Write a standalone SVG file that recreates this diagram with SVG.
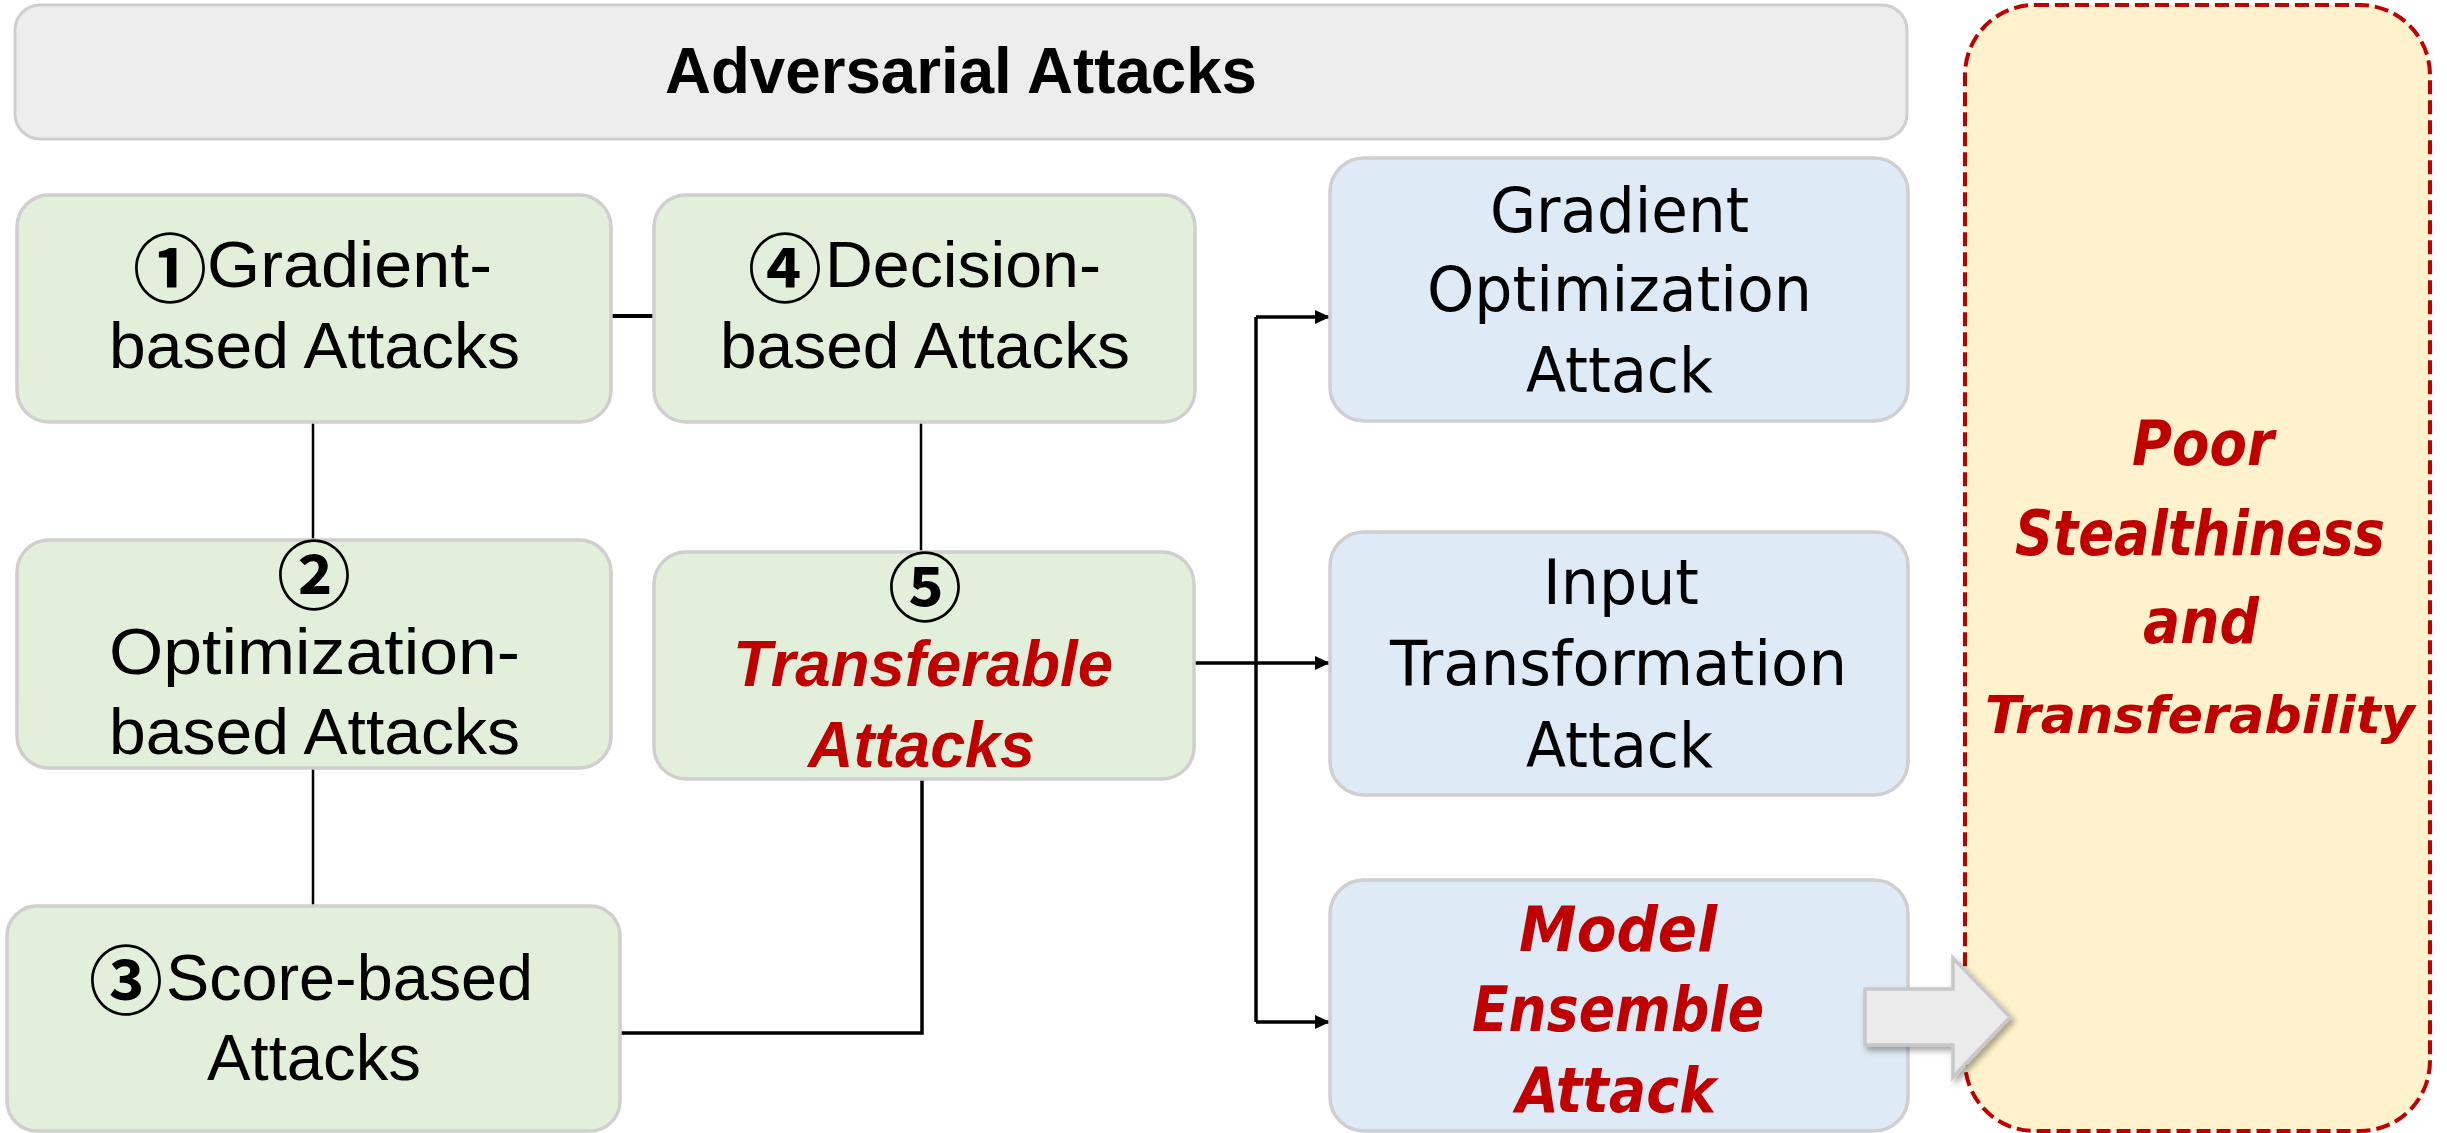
<svg xmlns="http://www.w3.org/2000/svg" width="2447" height="1133" viewBox="0 0 2447 1133">
<defs>
<style>
.title{fill:#EDEDED;stroke:#D0CECE;stroke-width:3}
.green{fill:#E2EFDA;stroke:#D0CECE;stroke-width:3.5}
.blue{fill:#DEEBF7;stroke:#D0CECE;stroke-width:3.5}
.t{font-family:"Liberation Sans",Arial,sans-serif;font-size:64px;fill:#000}
.tb{font-family:"Liberation Sans",Arial,sans-serif;font-size:64px;font-weight:bold;fill:#000}
.tr{font-family:"Liberation Sans",Arial,sans-serif;font-size:64px;font-weight:bold;font-style:italic;fill:#C00000}
.v{font-family:"DejaVu Sans",Verdana,sans-serif;font-size:62px;fill:#000}
.vr{font-family:"DejaVu Sans",Verdana,sans-serif;font-size:62px;font-weight:bold;font-style:italic;fill:#C00000}
.num{font-family:"Noto Sans CJK SC","Noto Sans CJK JP",sans-serif;font-size:74px;font-weight:bold;fill:#000}
.ln{stroke:#000;fill:none;stroke-width:2.5}
.lt{stroke:#000;fill:none;stroke-width:3.5}
</style>
<marker id="ah" markerUnits="userSpaceOnUse" markerWidth="16" markerHeight="16" refX="15" refY="8" orient="auto">
<path d="M0,1 L15,8 L0,15 Z" fill="#000"/>
</marker>
<filter id="sh" x="-20%" y="-20%" width="150%" height="150%">
<feDropShadow dx="3" dy="4" stdDeviation="3" flood-color="#000" flood-opacity="0.35"/>
</filter>
</defs>

<g id="title">
<rect class="title" x="15" y="5" width="1892" height="134" rx="25"/>
<text class="tb" x="961" y="93" text-anchor="middle" textLength="592" lengthAdjust="spacingAndGlyphs">Adversarial Attacks</text>
</g>

<g id="connectors">
<line class="lt" x1="611" y1="316" x2="654" y2="316" style="stroke-width:4"/>
<line class="ln" x1="313" y1="422" x2="313" y2="540"/>
<line class="ln" x1="313" y1="768" x2="313" y2="906"/>
<line class="ln" x1="921" y1="422" x2="921" y2="552"/>
<polyline class="lt" points="922,779 922,1033 620,1033"/>
<line class="lt" x1="1256" y1="317" x2="1256" y2="1022"/>
<line class="lt" x1="1194" y1="663" x2="1330" y2="663" marker-end="url(#ah)"/>
<line class="lt" x1="1256" y1="317" x2="1330" y2="317" marker-end="url(#ah)"/>
<line class="lt" x1="1256" y1="1022" x2="1330" y2="1022" marker-end="url(#ah)"/>
</g>

<g id="node-gradient">
<rect class="green" x="17" y="195" width="594" height="227" rx="32"/>
<text class="t" y="287"><tspan class="num" x="133" y="296">①</tspan><tspan x="207" y="287" textLength="285" lengthAdjust="spacingAndGlyphs">Gradient-</tspan></text>
<text class="t" x="109" y="368" textLength="411" lengthAdjust="spacingAndGlyphs">based Attacks</text>
</g>

<g id="node-decision">
<rect class="green" x="654" y="195" width="541" height="227" rx="32"/>
<text class="t" y="287"><tspan class="num" x="748" y="296">④</tspan><tspan x="825" y="287" textLength="276" lengthAdjust="spacingAndGlyphs">Decision-</tspan></text>
<text class="t" x="720" y="368" textLength="410" lengthAdjust="spacingAndGlyphs">based Attacks</text>
</g>

<g id="node-optimization">
<rect class="green" x="17" y="540" width="594" height="228" rx="32"/>
<text class="num" x="314" y="603" text-anchor="middle">②</text>
<text class="t" x="109" y="674" textLength="411" lengthAdjust="spacingAndGlyphs">Optimization-</text>
<text class="t" x="109" y="754" textLength="411" lengthAdjust="spacingAndGlyphs">based Attacks</text>
</g>

<g id="node-transferable">
<rect class="green" x="654" y="552" width="540" height="227" rx="32"/>
<text class="num" x="925" y="615" text-anchor="middle">⑤</text>
<text class="tr" x="733" y="686" textLength="380" lengthAdjust="spacingAndGlyphs">Transferable</text>
<text class="tr" x="808" y="767" textLength="227" lengthAdjust="spacingAndGlyphs">Attacks</text>
</g>

<g id="node-score">
<rect class="green" x="7" y="906" width="613" height="225" rx="30"/>
<text class="t" y="1000"><tspan class="num" x="89" y="1008">③</tspan><tspan x="166" y="1000" textLength="367" lengthAdjust="spacingAndGlyphs">Score-based</tspan></text>
<text class="t" x="207" y="1080" textLength="214" lengthAdjust="spacingAndGlyphs">Attacks</text>
</g>

<g id="node-gradient-opt">
<rect class="blue" x="1330" y="158" width="578" height="263" rx="34"/>
<text class="v" x="1490" y="232" textLength="259" lengthAdjust="spacingAndGlyphs">Gradient</text>
<text class="v" x="1427" y="311" textLength="385" lengthAdjust="spacingAndGlyphs">Optimization</text>
<text class="v" x="1526" y="392" textLength="187" lengthAdjust="spacingAndGlyphs">Attack</text>
</g>

<g id="node-input-trans">
<rect class="blue" x="1330" y="532" width="578" height="263" rx="34"/>
<text class="v" x="1543" y="604" textLength="156" lengthAdjust="spacingAndGlyphs">Input</text>
<text class="v" x="1390" y="685" textLength="457" lengthAdjust="spacingAndGlyphs">Transformation</text>
<text class="v" x="1526" y="767" textLength="187" lengthAdjust="spacingAndGlyphs">Attack</text>
</g>

<g id="node-model-ensemble">
<rect class="blue" x="1330" y="880" width="578" height="251" rx="34"/>
<text class="vr" x="1519" y="951" textLength="198" lengthAdjust="spacingAndGlyphs">Model</text>
<text class="vr" x="1472" y="1031" textLength="292" lengthAdjust="spacingAndGlyphs">Ensemble</text>
<text class="vr" x="1516" y="1112" textLength="200" lengthAdjust="spacingAndGlyphs">Attack</text>
</g>

<g id="node-poor">
<rect x="1965" y="5" width="465" height="1126" rx="70" fill="#FFF2CC" stroke="#C00000" stroke-width="4" stroke-dasharray="14 6"/>
<text class="vr" x="2203" y="465" text-anchor="middle" textLength="142" lengthAdjust="spacingAndGlyphs">Poor</text>
<text class="vr" x="2200" y="555" text-anchor="middle" textLength="370" lengthAdjust="spacingAndGlyphs">Stealthiness</text>
<text class="vr" x="2201" y="643" text-anchor="middle" textLength="116" lengthAdjust="spacingAndGlyphs">and</text>
<text class="vr" x="2200" y="733" text-anchor="middle" textLength="430" lengthAdjust="spacingAndGlyphs" style="font-size:52px">Transferability</text>
</g>

<g id="block-arrow">
<path d="M1865,989 L1953,989 L1953,958 L2010,1017 L1953,1077 L1953,1045 L1865,1045 Z" fill="#EBEBEB" stroke="#C8C8C8" stroke-width="3.5" filter="url(#sh)"/>
</g>
</svg>
